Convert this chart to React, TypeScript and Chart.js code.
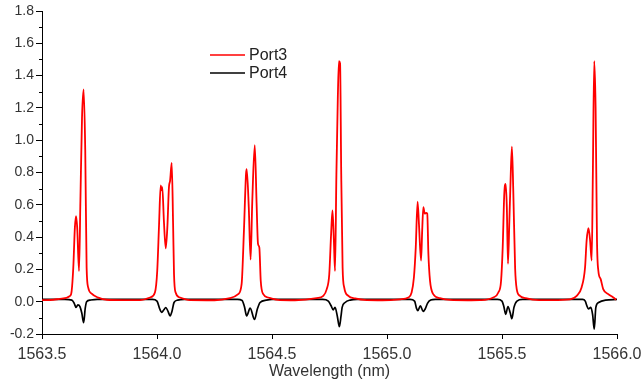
import React, { useEffect, useRef } from "react";
import { Chart, registerables } from "chart.js";

Chart.register(...registerables);

const seriesLabels = ["Port3", "Port4"];

const port3Wavelength = [
  1563.5, 1563.55,
  1563.578, 1563.622, 1563.629, 1563.636, 1563.643, 1563.648, 1563.653, 1563.661, 1563.667, 1563.674, 1563.681, 1563.688, 1563.694, 1563.701, 1563.716, 1563.745, 1563.781,
  1563.85,
  1563.926, 1563.97, 1563.991, 1564.001, 1564.009, 1564.016, 1564.02, 1564.023, 1564.03, 1564.038, 1564.045, 1564.052, 1564.057, 1564.064, 1564.07, 1564.074, 1564.081, 1564.1, 1564.143,
  1564.25,
  1564.317, 1564.353, 1564.368, 1564.378, 1564.387, 1564.39, 1564.399, 1564.407, 1564.414, 1564.425, 1564.433, 1564.439, 1564.445, 1564.451, 1564.462, 1564.484, 1564.535,
  1564.6,
  1564.694, 1564.723, 1564.738, 1564.749, 1564.757, 1564.763, 1564.769, 1564.774, 1564.78, 1564.786, 1564.791, 1564.796, 1564.801, 1564.807, 1564.814, 1564.832, 1564.861, 1564.912,
  1564.98,
  1565.057, 1565.093, 1565.107, 1565.117, 1565.125, 1565.133, 1565.139, 1565.148, 1565.153, 1565.158, 1565.164, 1565.17, 1565.175, 1565.18, 1565.187, 1565.201, 1565.23, 1565.274,
  1565.35,
  1565.404, 1565.462, 1565.484, 1565.496, 1565.503, 1565.51, 1565.516, 1565.521, 1565.526, 1565.532, 1565.536, 1565.543, 1565.549, 1565.557, 1565.564, 1565.578, 1565.603, 1565.661,
  1565.72,
  1565.796, 1565.825, 1565.846, 1565.861, 1565.868, 1565.876, 1565.883, 1565.89, 1565.895, 1565.901, 1565.907, 1565.913, 1565.919, 1565.929, 1565.94, 1565.962, 1565.984, 1565.996,
];

const port3Values = [
  0.01, 0.012,
  0.018, 0.036, 0.067, 0.21, 0.46, 0.53, 0.46, 0.19, 0.63, 1.14, 1.315, 0.94, 0.21, 0.087, 0.05, 0.025, 0.012,
  0.01,
  0.01, 0.026, 0.057, 0.19, 0.48, 0.72, 0.69, 0.71, 0.5, 0.33, 0.46, 0.71, 0.75, 0.86, 0.48, 0.17, 0.057, 0.026, 0.01,
  0.009,
  0.022, 0.047, 0.11, 0.44, 0.79, 0.82, 0.585, 0.26, 0.61, 0.97, 0.61, 0.36, 0.335, 0.13, 0.047, 0.026, 0.01,
  0.009,
  0.022, 0.036, 0.078, 0.17, 0.42, 0.565, 0.38, 0.19, 0.79, 1.25, 1.49, 1.475, 0.79, 0.21, 0.088, 0.036, 0.02, 0.01,
  0.009,
  0.015, 0.026, 0.057, 0.15, 0.335, 0.62, 0.48, 0.255, 0.44, 0.585, 0.545, 0.55, 0.545, 0.295, 0.13, 0.047, 0.022, 0.011,
  0.009,
  0.01, 0.026, 0.057, 0.13, 0.335, 0.67, 0.73, 0.585, 0.235, 0.5, 0.69, 0.96, 0.69, 0.21, 0.078, 0.036, 0.022, 0.01,
  0.01,
  0.015, 0.036, 0.088, 0.21, 0.38, 0.455, 0.38, 0.255, 0.79, 1.49, 1.2, 0.38, 0.19, 0.14, 0.078, 0.047, 0.026, 0.012,
];

const port4Wavelength = [
  1563.5, 1563.6, 1563.63, 1563.64, 1563.648, 1563.656, 1563.665, 1563.673, 1563.681, 1563.688, 1563.694, 1563.71, 1563.74,
  1563.98, 1564.0, 1564.012, 1564.02, 1564.03, 1564.038, 1564.048, 1564.057, 1564.065, 1564.074, 1564.09, 1564.12,
  1564.35, 1564.37, 1564.38, 1564.39, 1564.405, 1564.424, 1564.436, 1564.448, 1564.476, 1564.5,
  1564.72, 1564.745, 1564.757, 1564.766, 1564.774, 1564.784, 1564.793, 1564.8, 1564.805, 1564.818, 1564.84, 1564.87,
  1565.1, 1565.12, 1565.128, 1565.134, 1565.145, 1565.157, 1565.166, 1565.176, 1565.19, 1565.21,
  1565.48, 1565.5, 1565.508, 1565.516, 1565.526, 1565.536, 1565.543, 1565.552, 1565.565, 1565.59,
  1565.85, 1565.862, 1565.869, 1565.876, 1565.886, 1565.894, 1565.901, 1565.908, 1565.92, 1565.95, 1566.0,
];

const port4Values = [
  0.014, 0.014, 0.01, -0.01, -0.035, -0.02, -0.03, -0.07, -0.13, -0.04, 0.0, 0.01, 0.014,
  0.014, 0.004, -0.045, -0.066, -0.05, -0.036, -0.06, -0.088, -0.06, -0.005, 0.01, 0.014,
  0.014, 0.008, -0.03, -0.088, -0.04, -0.11, -0.047, -0.005, 0.01, 0.014,
  0.014, 0.004, -0.025, -0.05, -0.035, -0.09, -0.155, -0.09, -0.035, -0.005, 0.01, 0.014,
  0.014, 0.004, -0.04, -0.055, -0.025, -0.06, -0.045, -0.01, 0.01, 0.014,
  0.014, 0.004, -0.03, -0.078, -0.03, -0.07, -0.105, -0.035, 0.004, 0.014,
  0.014, 0.004, -0.025, -0.045, -0.035, -0.08, -0.17, -0.035, -0.005, 0.01, 0.014,
];

const xTickValues = [1563.5, 1564.0, 1564.5, 1565.0, 1565.5, 1566.0];
const yLabelValues = [-0.2, 0.0, 0.2, 0.4, 0.6, 0.8, 1.0, 1.2, 1.4, 1.6, 1.8];
const xTitle = "Wavelength (nm)";

const FONT = "'Liberation Sans', Arial, sans-serif";

const minorTicksPlugin = {
  id: "minorTicks",
  afterDraw(chart: any) {
    const ctx = chart.ctx;
    const y = chart.scales.y;
    ctx.save();
    ctx.strokeStyle = "#000";
    ctx.lineWidth = 1;
    for (let i = 0; i < yLabelValues.length - 1; i++) {
      const v = (yLabelValues[i] + yLabelValues[i + 1]) / 2;
      const py = Math.round(y.getPixelForValue(v)) + 0.5;
      ctx.beginPath();
      ctx.moveTo(y.right - 3, py);
      ctx.lineTo(y.right, py);
      ctx.stroke();
    }
    ctx.restore();
  },
};

const legendPlugin = {
  id: "insideLegend",
  afterDraw(chart: any) {
    const ctx = chart.ctx;
    ctx.save();
    ctx.font = "16px " + FONT;
    ctx.textBaseline = "middle";
    const rows = [55, 73];
    chart.data.datasets.forEach((ds: any, i: number) => {
      const yy = rows[i];
      ctx.strokeStyle = ds.borderColor;
      ctx.lineWidth = 1.5;
      ctx.beginPath();
      ctx.moveTo(210, yy);
      ctx.lineTo(245, yy);
      ctx.stroke();
      ctx.fillStyle = "#222";
      ctx.fillText(ds.label, 249, yy + 1);
    });
    ctx.restore();
  },
};

export default function App() {
  const ref = useRef<HTMLCanvasElement | null>(null);

  useEffect(() => {
    document.body.style.margin = "0";
    const p3 = port3Wavelength.map((x, i) => ({ x, y: port3Values[i] }));
    const p4 = port4Wavelength.map((x, i) => ({ x, y: port4Values[i] }));
    const chart = new Chart(ref.current as HTMLCanvasElement, {
      type: "line",
      data: {
        datasets: [
          {
            label: seriesLabels[0],
            data: p3,
            borderColor: "#ff0000",
            borderWidth: 1.8,
            pointRadius: 0,
            cubicInterpolationMode: "monotone",
            order: 1,
          },
          {
            label: seriesLabels[1],
            data: p4,
            borderColor: "#000000",
            borderWidth: 1.7,
            pointRadius: 0,
            cubicInterpolationMode: "monotone",
            order: 2,
          },
        ],
      },
      options: {
        animation: false,
        responsive: true,
        maintainAspectRatio: false,
        layout: { padding: { top: 11, right: 27, left: 0, bottom: 0 } },
        plugins: { legend: { display: false }, tooltip: { enabled: false } },
        scales: {
          x: {
            type: "linear",
            min: 1563.5,
            max: 1566.0,
            afterBuildTicks(scale: any) {
              scale.ticks = xTickValues.map((v) => ({ value: v }));
            },
            afterFit(scale: any) {
              scale.height = 49;
              scale.paddingLeft = 0;
              scale.paddingRight = 0;
            },
            ticks: {
              callback: (v: any) => Number(v).toFixed(1),
              font: { family: FONT, size: 16 },
              color: "#333",
              padding: 6,
              maxRotation: 0,
              autoSkip: false,
            },
            grid: { drawOnChartArea: false, drawTicks: true, tickLength: 5, color: "#000" },
            border: { display: true, color: "#000", width: 1 },
            title: {
              display: true,
              text: xTitle,
              font: { family: FONT, size: 16 },
              color: "#333",
              padding: { top: 0, bottom: 2 },
            },
          },
          y: {
            type: "linear",
            min: -0.2,
            max: 1.8,
            afterBuildTicks(scale: any) {
              scale.ticks = yLabelValues.map((v) => ({ value: v }));
            },
            afterFit(scale: any) {
              scale.width = 42;
              scale.paddingTop = 0;
              scale.paddingBottom = 0;
            },
            ticks: {
              callback: (v: any) => Number(v).toFixed(1),
              font: { family: FONT, size: 14 },
              color: "#333",
              padding: 2,
              autoSkip: false,
            },
            grid: { drawOnChartArea: false, drawTicks: true, tickLength: 6, color: "#000" },
            border: { display: true, color: "#000", width: 1 },
          },
        },
      },
      plugins: [minorTicksPlugin, legendPlugin],
    });
    return () => chart.destroy();
  }, []);

  return (
    <div style={{ position: "fixed", left: 0, top: 0, width: 644, height: 383 }}>
      <canvas ref={ref} />
    </div>
  );
}
